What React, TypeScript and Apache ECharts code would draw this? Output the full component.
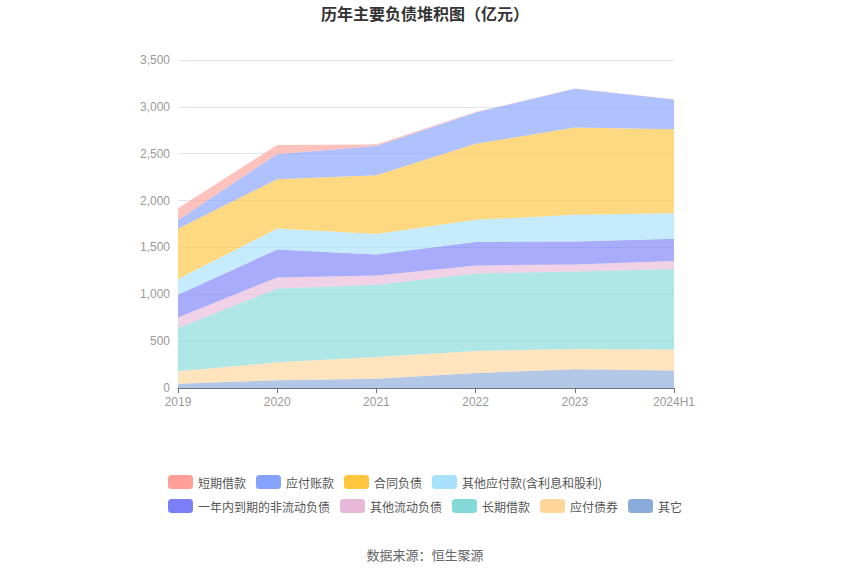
import React, { useEffect, useRef } from "react";
import * as echarts from "echarts";

const years = ["2019", "2020", "2021", "2022", "2023", "2024H1"];
const yTicks = [0, 500, 1000, 1500, 2000, 2500, 3000, 3500];

const qita = [46, 82, 99, 160, 199, 188];
const yingfuZhaiquan = [132, 192, 231, 235, 217, 224];
const changqiJiekuan = [462, 788, 771, 828, 828, 857];
const qitaLiudong = [113, 118, 100, 85, 75, 85];
const yinianNei = [242, 298, 224, 249, 245, 239];
const qitaYingfu = [167, 224, 217, 238, 285, 273];
const hetongFuzhai = [536, 526, 628, 811, 931, 896];
const yingfuZhangkuan = [96, 270, 313, 334, 412, 317];
const duanqiJiekuan = [125, 96, 14, 4, 4, 3];

const seriesDefs = [
  { name: "其它", data: qita, color: "#8aabd9" },
  { name: "应付债券", data: yingfuZhaiquan, color: "#ffd699" },
  { name: "长期借款", data: changqiJiekuan, color: "#84d8d8" },
  { name: "其他流动负债", data: qitaLiudong, color: "#e8b8d8" },
  { name: "一年内到期的非流动负债", data: yinianNei, color: "#7b7ff8" },
  { name: "其他应付款(含利息和股利)", data: qitaYingfu, color: "#a8e1fb" },
  { name: "合同负债", data: hetongFuzhai, color: "#ffc53d" },
  { name: "应付账款", data: yingfuZhangkuan, color: "#85a2fc" },
  { name: "短期借款", data: duanqiJiekuan, color: "#ff9f97" },
];

const legendOrder = [
  "短期借款",
  "应付账款",
  "合同负债",
  "其他应付款(含利息和股利)",
  "一年内到期的非流动负债",
  "其他流动负债",
  "长期借款",
  "应付债券",
  "其它",
];

export default function App() {
  const ref = useRef<HTMLDivElement>(null);
  useEffect(() => {
    if (!ref.current) return;
    const chart = echarts.init(ref.current, null, { renderer: "svg" });
    chart.setOption({
      animation: false,
      backgroundColor: "#ffffff",
      color: seriesDefs.map((s) => s.color),
      title: {
        text: "历年主要负债堆积图（亿元）",
        left: "center",
        top: 0,
        textStyle: { fontSize: 16, fontWeight: "bold", color: "#333333", fontFamily: "Noto Sans CJK SC" },
      },
      graphic: [
        {
          type: "text",
          left: "center",
          top: 548,
          style: { text: "数据来源：恒生聚源", fontSize: 13, fill: "#666666", fontFamily: "Noto Sans CJK SC" },
        },
      ],
      legend: {
        data: legendOrder,
        left: 163,
        top: 470,
        width: 530,
        itemWidth: 25,
        itemHeight: 14,
        itemGap: 10,
        icon: "roundRect",
        textStyle: { fontSize: 12, color: "#555555", fontFamily: "Noto Sans CJK SC" },
      },
      grid: { left: 178, right: 176, top: 60, bottom: 187, containLabel: false },
      xAxis: {
        type: "category",
        data: years,
        boundaryGap: false,
        axisLine: { lineStyle: { color: "#6e7079" } },
        axisTick: { show: true, lineStyle: { color: "#6e7079" } },
        axisLabel: { color: "#999999", fontSize: 12, margin: 8 },
      },
      yAxis: {
        type: "value",
        min: 0,
        max: 3500,
        interval: 500,
        axisLine: { show: false },
        axisTick: { show: false },
        axisLabel: {
          color: "#999999",
          fontSize: 12,
          formatter: (v: number) => (yTicks.includes(v) ? v.toLocaleString("en-US") : ""),
        },
        splitLine: { lineStyle: { color: "#e0e6f1" } },
      },
      series: seriesDefs.map((s) => ({
        name: s.name,
        type: "line",
        stack: "total",
        data: s.data,
        symbol: "none",
        lineStyle: { width: 0 },
        areaStyle: { opacity: 0.65, color: s.color },
        itemStyle: { color: s.color },
      })),
    });
    return () => chart.dispose();
  }, []);
  return <div ref={ref} style={{ position: "fixed", left: 0, top: 0, width: 850, height: 575 }} />;
}
